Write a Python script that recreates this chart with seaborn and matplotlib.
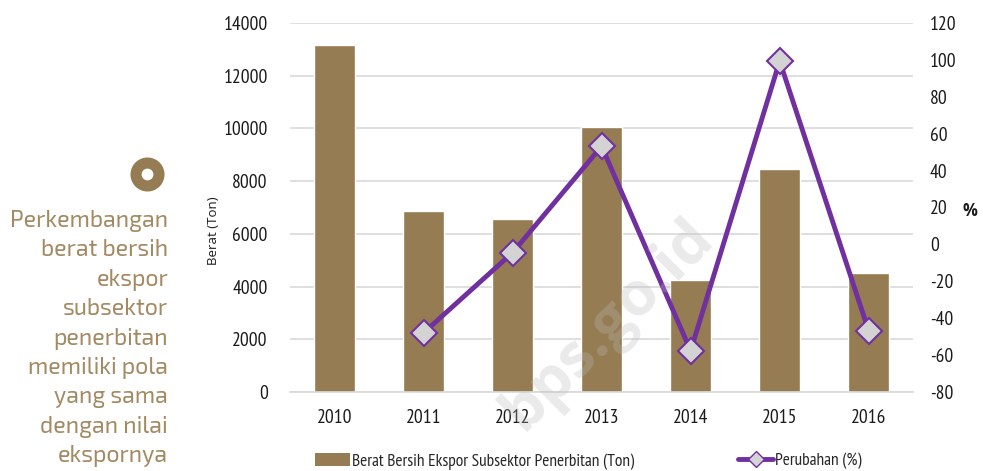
import matplotlib
matplotlib.use("Agg")
import matplotlib.pyplot as plt
import seaborn as sns
import pandas as pd
import numpy as np
from matplotlib.lines import Line2D
from matplotlib.patches import Patch

# ---- data ----
years = ["2010", "2011", "2012", "2013", "2014", "2015", "2016"]
berat_ton = [13150, 6850, 6560, 10070, 4250, 8460, 4500]
change_years = ["2011", "2012", "2013", "2014", "2015", "2016"]
perubahan = [-48.0, -4.5, 53.2, -57.7, 99.4, -46.9]

left_yticks = [0, 2000, 4000, 6000, 8000, 10000, 12000, 14000]
right_yticks = [-80, -60, -40, -20, 0, 20, 40, 60, 80, 100, 120]

note_text = ("Perkembangan\nberat bersih\nekspor\nsubsektor\npenerbitan\n"
             "memiliki pola\nyang sama\ndengan nilai\nekspornya")

BROWN = "#957C52"
TEXT_BROWN = "#A38A63"
PURPLE = "#7030A0"
GRID = "#D9D9D9"
INK = "#1a1a1a"

sns.set_theme(style="white")
plt.rcParams["font.family"] = ["PT Sans Narrow", "DejaVu Sans"]

fig = plt.figure(figsize=(9.83, 4.71), dpi=100)
ax = fig.add_axes([0.295, 0.168, 0.634, 0.783])

bar_df = pd.DataFrame({"Tahun": years, "Berat": berat_ton})
sns.barplot(data=bar_df, x="Tahun", y="Berat", color=BROWN, saturation=1,
            width=0.46, ax=ax, zorder=2)
ax.set_ylim(0, 14000)
ax.set_yticks(left_yticks)
ax.set_yticklabels([str(v) for v in left_yticks])
ax.set_xlim(-0.5, len(years) - 0.5)
ax.grid(axis="y", color=GRID, linewidth=1.2, zorder=0)
ax.set_axisbelow(True)
for s in ["top", "right", "left"]:
    ax.spines[s].set_visible(False)
ax.spines["bottom"].set_color(GRID)
ax.spines["bottom"].set_linewidth(1.2)
ax.tick_params(axis="both", length=0, labelsize=14, colors=INK)
ax.tick_params(axis="x", pad=12)
ax.tick_params(axis="y", pad=16)
ax.set_xlabel("")
ax.set_ylabel("")
fig.text(0.217, 0.51, "Berat (Ton)", fontsize=9.5, color=INK, rotation=90,
         ha="center", va="center", family=["Open Sans", "DejaVu Sans"])

ax2 = ax.twinx()
line_df = pd.DataFrame({"pos": [years.index(y) for y in change_years],
                        "Perubahan": perubahan})
sns.lineplot(data=line_df, x="pos", y="Perubahan", color=PURPLE, linewidth=3.5,
             marker="D", markersize=13, markerfacecolor="#D3D3D3",
             markeredgecolor=PURPLE, markeredgewidth=1.5, ax=ax2, zorder=3)
ax2.set_ylim(-80, 120)
ax2.set_yticks(right_yticks)
ax2.set_yticklabels([str(v) for v in right_yticks])
for s in ["top", "right", "left", "bottom"]:
    ax2.spines[s].set_visible(False)
ax2.tick_params(axis="y", length=0, labelsize=14, colors=INK, pad=12)
ax2.set_ylabel("")
ax2.set_xlabel("")
ax2.grid(False)
fig.text(0.987, 0.553, "%", fontsize=12, fontweight="bold", ha="center",
         va="center", color=INK, family=["Open Sans", "DejaVu Sans"])

# legend
handles = [Patch(facecolor=BROWN, edgecolor="none"),
           Line2D([0], [0], color=PURPLE, linewidth=3.5, marker="D", markersize=8,
                  markerfacecolor="#D3D3D3", markeredgecolor=PURPLE)]
labels = ["Berat Bersih Ekspor Subsektor Penerbitan (Ton)", "Perubahan (%)"]
fig.legend(handles, labels, loc="lower left", bbox_to_anchor=(0.305, -0.03),
           ncol=2, frameon=False, fontsize=12.5, handlelength=2.0,
           handleheight=0.8, handletextpad=0.1, columnspacing=6.0)

# watermark
fig.text(0.618, 0.31, "bps.go.id", fontsize=44, fontweight="bold", color="#BBBBBB",
         alpha=0.3, rotation=45, ha="center", va="center",
         family=["Open Sans", "DejaVu Sans"])

# side note with ring icon
iax = fig.add_axes([0.12, 0.58, 0.06, 0.1])
iax.plot([0], [0], marker="o", markersize=16.5, markerfacecolor="white",
         markeredgecolor=BROWN, markeredgewidth=8)
iax.set_xlim(-1, 1)
iax.set_ylim(-1, 1)
iax.axis("off")
fig.text(0.171, 0.555, note_text, fontsize=16.7, color=TEXT_BROWN, ha="right",
         va="top", linespacing=1.44, family=["Exo 2", "Exo", "DejaVu Sans"])

fig.savefig("out.png", dpi=100)
